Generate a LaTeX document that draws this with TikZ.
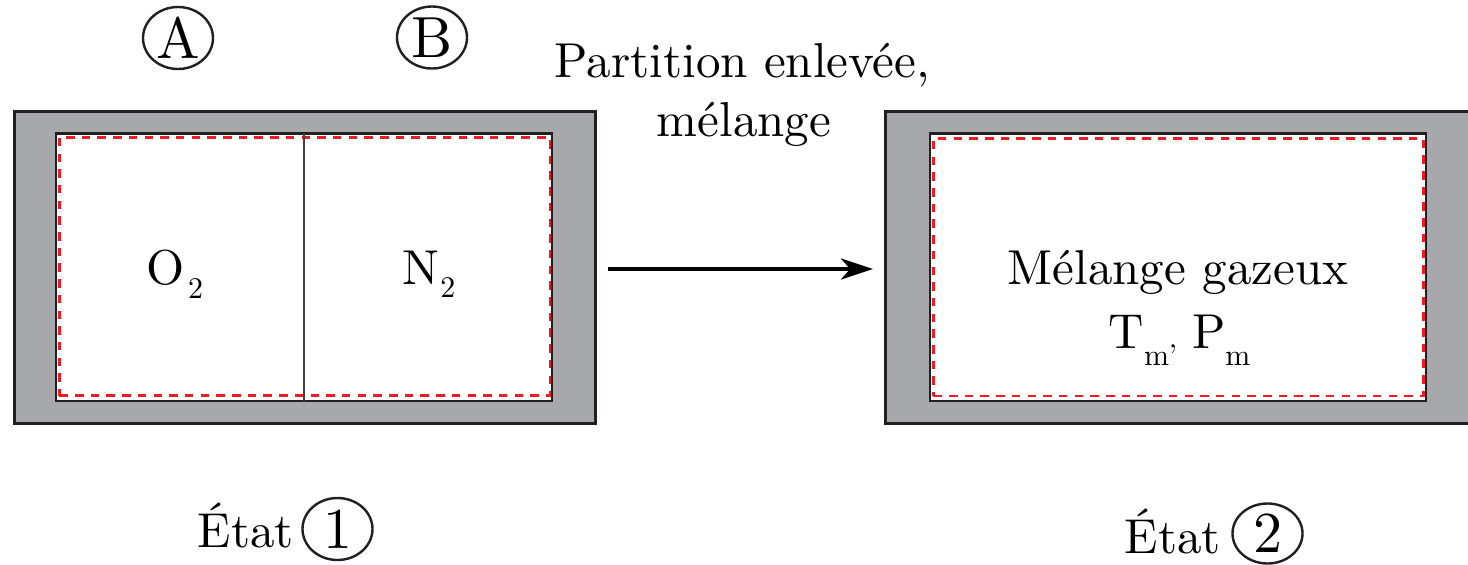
\documentclass[tikz,border=0pt]{standalone}
\usepackage{fontspec}
\setmainfont{lmroman10-regular}[Extension=.otf]
\usetikzlibrary{shapes.geometric,arrows.meta}
\definecolor{wallgray}{RGB}{166,168,171}
\definecolor{edgeblack}{RGB}{35,31,32}
\definecolor{dashred}{RGB}{237,28,36}
\newcommand\myfs[1]{\fontsize{#1}{#1}\selectfont}
\begin{document}
\begin{tikzpicture}[x=1pt,y=-1pt,
  wall/.style={rectangle, draw=edgeblack, fill=wallgray, line width=3pt, inner sep=0pt, outer sep=0pt},
  cavity/.style={rectangle, draw=edgeblack, fill=white, line width=2.8pt, inner sep=0pt, outer sep=0pt},
  redbox/.style={rectangle, draw=dashred, line width=2.9pt, dash pattern=on 8.5pt off 7.2pt, inner sep=0pt, outer sep=0pt},
  lbl/.style={font=\myfs{49}, inner sep=0pt, anchor=base},
  ring/.style={ellipse, draw=edgeblack, line width=2.4pt, minimum width=70pt, minimum height=62pt, inner sep=0pt, font=\myfs{58}},
  partition/.style={draw=edgeblack!85, line width=2pt},
  flow/.style={line width=4pt, -{Stealth[length=32pt,width=21pt,inset=9pt]}}
]
\useasboundingbox (0,0) rectangle (1468,565);
\clip (0,0) rectangle (1468,565);

% State 1
\node[wall, minimum width=581pt, minimum height=312pt] (L) at (304.5,267) {};
\node[cavity, minimum width=496pt, minimum height=267.5pt] (Lin) at (304,267.25) {};
\node[redbox, minimum width=490.7pt, minimum height=258.4pt] (Lred) at (304.65,266.5) {};
\coordinate (ptop) at (304,133.5);
\coordinate (pbot) at (304,401);
\draw[partition] (ptop) -- (pbot);
\node[lbl] (o2) at (175,284) {O\hspace{3pt}\raisebox{-14pt}{\myfs{30}2}};
\node[lbl] (n2) at (429,284) {N\hspace{1pt}\raisebox{-13pt}{\myfs{30}2}};

% State 2
\node[wall, minimum width=586pt, minimum height=312pt] (R) at (1178.5,267) {};
\node[cavity, minimum width=496pt, minimum height=267.5pt] (Rin) at (1178,267.25) {};
\node[redbox, minimum width=490pt, minimum height=257.7pt] (Rred) at (1178.3,267.15) {};
\node[lbl] (mix) at (1178,284) {Mélange gazeux};
\node[lbl] (tp) at (1179.5,348) {T\raisebox{-17pt}{\myfs{30}m’}\hspace{0.3em}P\raisebox{-17pt}{\myfs{30}m}};

% arrow and its label
\draw[flow, shorten <=13pt, shorten >=12.5pt] ([yshift=-2pt]L.east) -- ([yshift=-2pt]R.west);
\node[lbl] (part1) at (742.5,77) {Partition enlevée,};
\node[lbl] (part2) at (744,136) {mélange};

% A and B
\node[ring] (A) at (178,38) {A};
\node[ring] (B) at (432,37.5) {B};

% state labels
\node[lbl, anchor=base east] (etat1) at (294,547) {État};
\node[ring] (c1) at (337.5,529) {1};
\node[lbl, anchor=base east] (etat2) at (1221,553) {État};
\node[ring, minimum height=60pt] (c2) at (1267.5,533.5) {2};
\end{tikzpicture}
\end{document}
